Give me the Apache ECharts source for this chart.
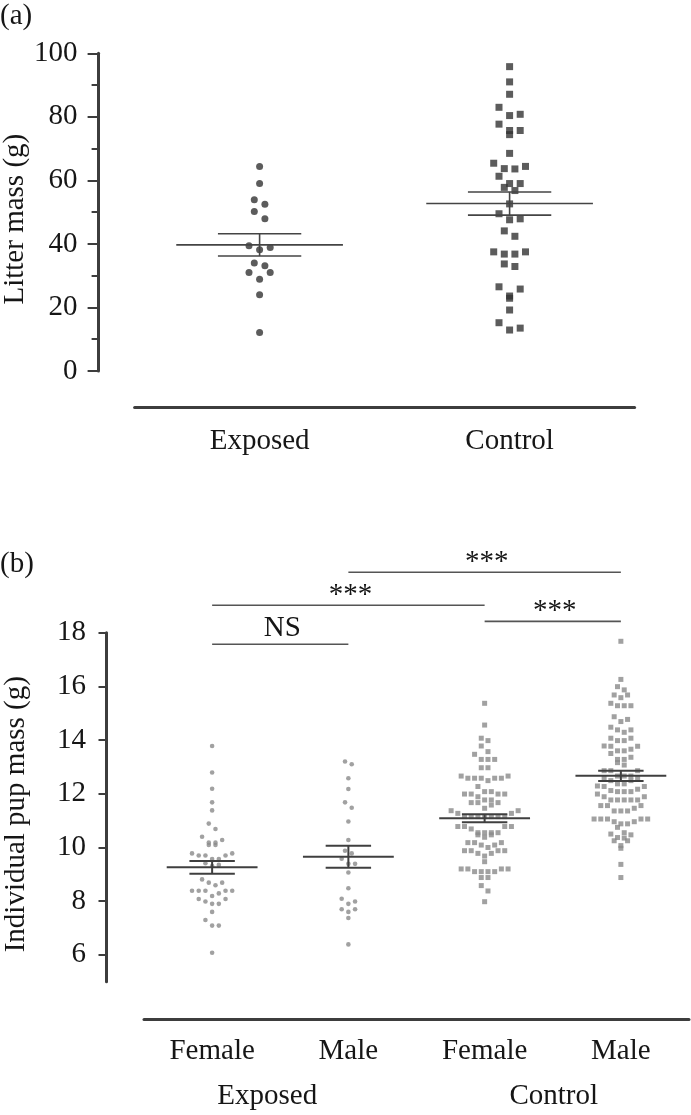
<!DOCTYPE html>
<html><head><meta charset="utf-8">
<script src="https://cdn.jsdelivr.net/npm/echarts@6/dist/echarts.min.js"></script>
<style>html,body{margin:0;padding:0;background:#fff}#c{width:691px;height:1115px}</style>
</head><body><div id="c"></div><script>
// ---------- Panel (a): litter mass ----------
const litterCategories = ['Exposed', 'Control'];
const litterExposed = [64.4, 59.0, 53.9, 52.5, 50.2, 47.9, 39.4, 38.9, 38.2, 34.0, 33.1, 31.0, 31.0, 28.9, 24.0, 12.1];
const litterControl = [95.8, 91.0, 87.1, 83.0, 80.8, 80.4, 77.7, 75.7, 75.7, 74.4, 68.5, 65.4, 64.4, 63.7, 63.6, 61.3,
  59.0, 59.0, 57.8, 56.8, 52.6, 49.5, 47.9, 47.6, 44.1, 42.4, 37.5, 37.5, 36.8, 36.8, 33.7, 32.9, 26.5, 25.8, 23.6, 22.9,
  19.2, 15.2, 13.5, 12.9];
const litterMean = [39.7, 52.7];
const litterSem = [3.5, 3.65];
const litterTicks = [0, 20, 40, 60, 80, 100];

// ---------- Panel (b): individual pup mass ----------
const pupSex = ['Female', 'Male', 'Female', 'Male'];
const pupGroups = ['Exposed', 'Control'];
const pupExposedFemale = [13.78, 12.79, 12.19, 11.68, 11.38, 10.89, 10.69, 10.40, 10.28, 10.18, 10.18, 10.09, 10.09,
  9.78, 9.78, 9.70, 9.70, 9.70, 9.57, 9.57, 9.41, 9.35, 9.31, 8.81, 8.69, 8.69, 8.59, 8.39, 8.39, 8.39, 8.39, 8.39,
  8.29, 8.19, 8.08, 8.08, 7.99, 7.90, 7.90, 7.60, 7.30, 7.09, 7.09, 6.08];
const pupExposedMale = [13.20, 13.10, 12.58, 12.18, 11.68, 11.48, 10.97, 10.28, 9.88, 9.78, 9.58, 9.39, 9.39, 9.07,
  8.48, 8.09, 7.99, 7.90, 7.70, 7.70, 7.60, 7.37, 6.39];
const pupControlFemale = [15.37, 14.56, 14.07, 13.98, 13.78, 13.57, 13.47, 13.28, 13.28, 13.28, 12.97, 12.97, 12.66,
  12.66, 12.58, 12.58, 12.58, 12.58, 12.58, 12.49, 12.27, 12.08, 12.08, 11.99, 11.99, 11.99, 11.99, 11.89, 11.77, 11.77,
  11.67, 11.67, 11.67, 11.58, 11.46, 11.37, 11.37, 11.27, 11.27, 11.15, 11.15, 11.15, 11.15, 11.15, 11.15, 11.15,
  10.78, 10.78, 10.78, 10.78, 10.69, 10.55, 10.55, 10.55, 10.55, 10.47, 10.47, 10.38, 10.18, 10.18, 10.18, 10.09,
  10.09, 10.00, 9.88, 9.88, 9.88, 9.88, 9.78, 9.78, 9.68, 9.47, 9.20, 9.20, 9.20, 9.20, 9.10, 9.10, 9.10, 9.10,
  8.88, 8.88, 8.58, 8.38, 7.98];
const pupControlMale = [17.68, 16.26, 15.99, 15.87, 15.68, 15.58, 15.68, 15.37, 15.28, 15.28, 15.28, 14.87, 14.69,
  14.77, 14.48, 14.38, 14.29, 14.38, 14.07, 13.98, 13.98, 14.07, 13.77, 13.60, 13.78, 13.66, 13.50, 13.77, 13.60,
  13.28, 13.36, 13.28, 13.16, 13.07, 12.86, 12.86, 12.86, 12.58, 12.66, 12.49, 12.66, 12.66, 12.49, 12.58, 12.27,
  12.17, 12.37, 12.37, 12.29, 12.12, 12.27, 11.99, 11.89, 12.08, 12.08, 11.89, 12.08, 11.77, 11.77, 11.77, 11.77,
  11.77, 11.56, 11.56, 11.46, 11.56, 11.36, 11.36, 11.36, 11.06, 11.06, 10.96, 11.06, 11.06, 11.06, 10.88, 10.75,
  10.88, 10.96, 10.55, 10.50, 10.35, 10.47, 10.37, 10.25, 10.25, 9.97, 10.07, 9.37, 8.88];
const pupMean = [9.26, 9.65, 11.09, 12.67];
const pupSem = [0.24, 0.41, 0.15, 0.19];
const pupTicks = [6, 8, 10, 12, 14, 16, 18];
const pupMinorTicks = [7, 9, 11, 13, 15, 17];
const compFrom = [0, 0, 2, 1];
const compTo = [1, 2, 3, 3];
const compLevel = [17.57, 19.02, 18.42, 20.25];
const compText = ['NS', '***', '***', '***'];

// ---------- layout / style ----------
const FONT = 'Liberation Serif';
const TXT = '#161616';
const AX = '#3d3d3d';
const FS = 29;
const gA = { left: 134.6, top: 53.3, width: 500, height: 317.7, outerBoundsMode: 'none', containLabel: false };
const gB = { left: 144, top: 632.7, width: 545, height: 349, outerBoundsMode: 'none', containLabel: false };
const aMin = 0, aMax = 100, bMin = 5, bMax = 18;

// beeswarm rows: points of similar value share a row, spread symmetrically
function swarm(values, pxPerUnit, rowPx, stepPx) {
  const idx = values.map((v, i) => i).sort((a, b) => values[b] - values[a]);
  const offs = new Array(values.length).fill(0);
  let row = [];
  const flush = () => {
    const n = row.length, order = [];
    let l = 0, r = n - 1;
    while (l <= r) { order.push(l); if (r !== l) order.push(r); l++; r--; }
    row.forEach((id, k) => { offs[id] = (order[k] - (n - 1) / 2) * stepPx; });
    row = [];
  };
  for (const id of idx) {
    if (row.length && (values[row[0]] - values[id]) * pxPerUnit > rowPx) flush();
    row.push(id);
  }
  if (row.length) flush();
  return offs;
}
function swarmData(values, cat, pxPerUnit, rowPx, stepPx) {
  const offs = swarm(values, pxPerUnit, rowPx, stepPx);
  return values.map((v, i) => ({ value: [cat, v], symbolOffset: [offs[i], 0] }));
}
const aPx = gA.height / (aMax - aMin), bPx = gB.height / (bMax - bMin);

function meanSem(color, lw) {
  return function (params, api) {
    const c = api.value(0), m = api.value(1), s = api.value(2);
    const band = api.size([1, 0])[0];
    const pm = api.coord([c, m]), pu = api.coord([c, m + s]), pl = api.coord([c, m - s]);
    const hw = band / 3, hs = band / 6;
    const st = { stroke: color, lineWidth: lw };
    return { type: 'group', children: [
      { type: 'line', shape: { x1: pm[0] - hw, y1: pm[1], x2: pm[0] + hw, y2: pm[1] }, style: st },
      { type: 'line', shape: { x1: pu[0] - hs, y1: pu[1], x2: pu[0] + hs, y2: pu[1] }, style: st },
      { type: 'line', shape: { x1: pl[0] - hs, y1: pl[1], x2: pl[0] + hs, y2: pl[1] }, style: st },
      { type: 'line', shape: { x1: pu[0], y1: pu[1], x2: pl[0], y2: pl[1] }, style: st }
    ]};
  };
}

const chart = echarts.init(document.getElementById('c'), null, { renderer: 'canvas' });
const axisLine = { show: true, onZero: false, lineStyle: { color: AX, width: 3 } };
const labelStyle = { fontFamily: FONT, fontSize: FS, color: TXT };

chart.setOption({
  animation: false,
  backgroundColor: '#fff',
  textStyle: { fontFamily: FONT },
  title: [
    { text: '(a)', left: 0, top: 2, padding: 0, textStyle: { fontFamily: FONT, fontSize: FS, fontWeight: 'normal', color: TXT } },
    { text: '(b)', left: 0, top: 550, padding: 0, textStyle: { fontFamily: FONT, fontSize: FS, fontWeight: 'normal', color: TXT } }
  ],
  grid: [
    gA,
    gB,
    { left: 124, top: gB.top, width: 573, height: gB.height, outerBoundsMode: 'none', containLabel: false }
  ],
  xAxis: [
    { gridIndex: 0, type: 'category', data: litterCategories, offset: 36,
      axisLine: axisLine, axisTick: { alignWithLabel: true, length: 11, lineStyle: { width: 2, color: AX } },
      axisLabel: Object.assign({ margin: 20 }, labelStyle), splitLine: { show: false } },
    { gridIndex: 1, type: 'category', data: pupSex, offset: 38,
      axisLine: axisLine, axisTick: { alignWithLabel: true, length: 7, lineStyle: { width: 2, color: AX } },
      axisLabel: Object.assign({ margin: 17 }, labelStyle), splitLine: { show: false } },
    { gridIndex: 2, type: 'category', data: pupGroups, offset: 38,
      axisLine: { show: false }, axisTick: { show: false },
      axisLabel: Object.assign({ margin: 62 }, labelStyle), splitLine: { show: false } }
  ],
  yAxis: [
    { gridIndex: 0, type: 'value', min: aMin, max: aMax, interval: 20, offset: 36,
      name: 'Litter mass (g)', nameLocation: 'middle', nameGap: 69, nameRotate: 90, nameMoveOverlap: false,
      nameTextStyle: Object.assign({ padding: [0, 14, 0, 0] }, labelStyle),
      axisLine: axisLine, axisTick: { show: true, length: 11, lineStyle: { width: 2, color: AX } },
      minorTick: { show: true, splitNumber: 2, length: 7, lineStyle: { width: 2, color: AX } },
      axisLabel: Object.assign({ margin: 21, customValues: litterTicks }, labelStyle),
      splitLine: { show: false }, minorSplitLine: { show: false } },
    { gridIndex: 1, type: 'value', min: bMin, max: bMax, offset: 38,
      name: 'Individual pup mass (g)', nameLocation: 'middle', nameGap: 75, nameRotate: 90, nameMoveOverlap: false,
      nameTextStyle: Object.assign({ padding: [0, 14, 0, 0] }, labelStyle),
      axisLine: axisLine,
      axisTick: { show: true, length: 7.5, customValues: pupTicks, lineStyle: { width: 2, color: AX } },
      axisLabel: Object.assign({ margin: 20, customValues: pupTicks }, labelStyle),
      splitLine: { show: false } },
    { gridIndex: 1, type: 'value', min: bMin, max: bMax, offset: 38,
      axisLine: { show: false },
      axisTick: { show: true, length: 4, customValues: pupMinorTicks, lineStyle: { width: 2, color: AX } },
      axisLabel: { show: false }, splitLine: { show: false } },
    { gridIndex: 2, type: 'value', min: bMin, max: bMax, show: false }
  ],
  series: [
    { type: 'scatter', xAxisIndex: 0, yAxisIndex: 0, symbol: 'circle', symbolSize: 7,
      itemStyle: { color: '#333' }, data: swarmData(litterExposed, 0, aPx, 9.5, 10.6) },
    { type: 'scatter', xAxisIndex: 0, yAxisIndex: 0, symbol: 'rect', symbolSize: 7,
      itemStyle: { color: '#333' }, data: swarmData(litterControl, 1, aPx, 9.5, 10.6) },
    { type: 'custom', xAxisIndex: 0, yAxisIndex: 0, renderItem: meanSem('#444', 1.6), z: 5,
      data: litterMean.map((m, i) => [i, m, litterSem[i]]) },

    { type: 'scatter', xAxisIndex: 1, yAxisIndex: 1, symbol: 'circle', symbolSize: 4.6,
      itemStyle: { color: '#8a8a8a' }, data: swarmData(pupExposedFemale, 0, bPx, 6.5, 6.7) },
    { type: 'scatter', xAxisIndex: 1, yAxisIndex: 1, symbol: 'circle', symbolSize: 4.6,
      itemStyle: { color: '#8a8a8a' }, data: swarmData(pupExposedMale, 1, bPx, 6.5, 6.7) },
    { type: 'scatter', xAxisIndex: 1, yAxisIndex: 1, symbol: 'rect', symbolSize: 5,
      itemStyle: { color: '#8a8a8a' }, data: swarmData(pupControlFemale, 2, bPx, 6.5, 6.7) },
    { type: 'scatter', xAxisIndex: 1, yAxisIndex: 1, symbol: 'rect', symbolSize: 5,
      itemStyle: { color: '#8a8a8a' }, data: swarmData(pupControlMale, 3, bPx, 6.5, 6.7) },
    { type: 'custom', xAxisIndex: 1, yAxisIndex: 1, renderItem: meanSem('#3f3f3f', 2), z: 5,
      data: pupMean.map((m, i) => [i, m, pupSem[i]]) },
    { type: 'custom', xAxisIndex: 1, yAxisIndex: 1, z: 5, clip: false,
      data: compLevel.map((y, i) => [compFrom[i], compTo[i], y]),
      renderItem: function (params, api) {
        const p1 = api.coord([api.value(0), api.value(2)]);
        const p2 = api.coord([api.value(1), api.value(2)]);
        const t = compText[params.dataIndex];
        const gap = t === 'NS' ? 16 : 10;
        return { type: 'group', children: [
          { type: 'line', shape: { x1: p1[0], y1: p1[1], x2: p2[0], y2: p2[1] }, style: { stroke: '#555', lineWidth: 1.6 } },
          { type: 'text', style: { text: t, x: (p1[0] + p2[0]) / 2 + 2, y: p1[1] - gap, align: 'center', verticalAlign: 'middle',
            fontFamily: FONT, fontSize: FS, fill: TXT } }
        ]};
      } }
  ]
});
</script></body></html>
